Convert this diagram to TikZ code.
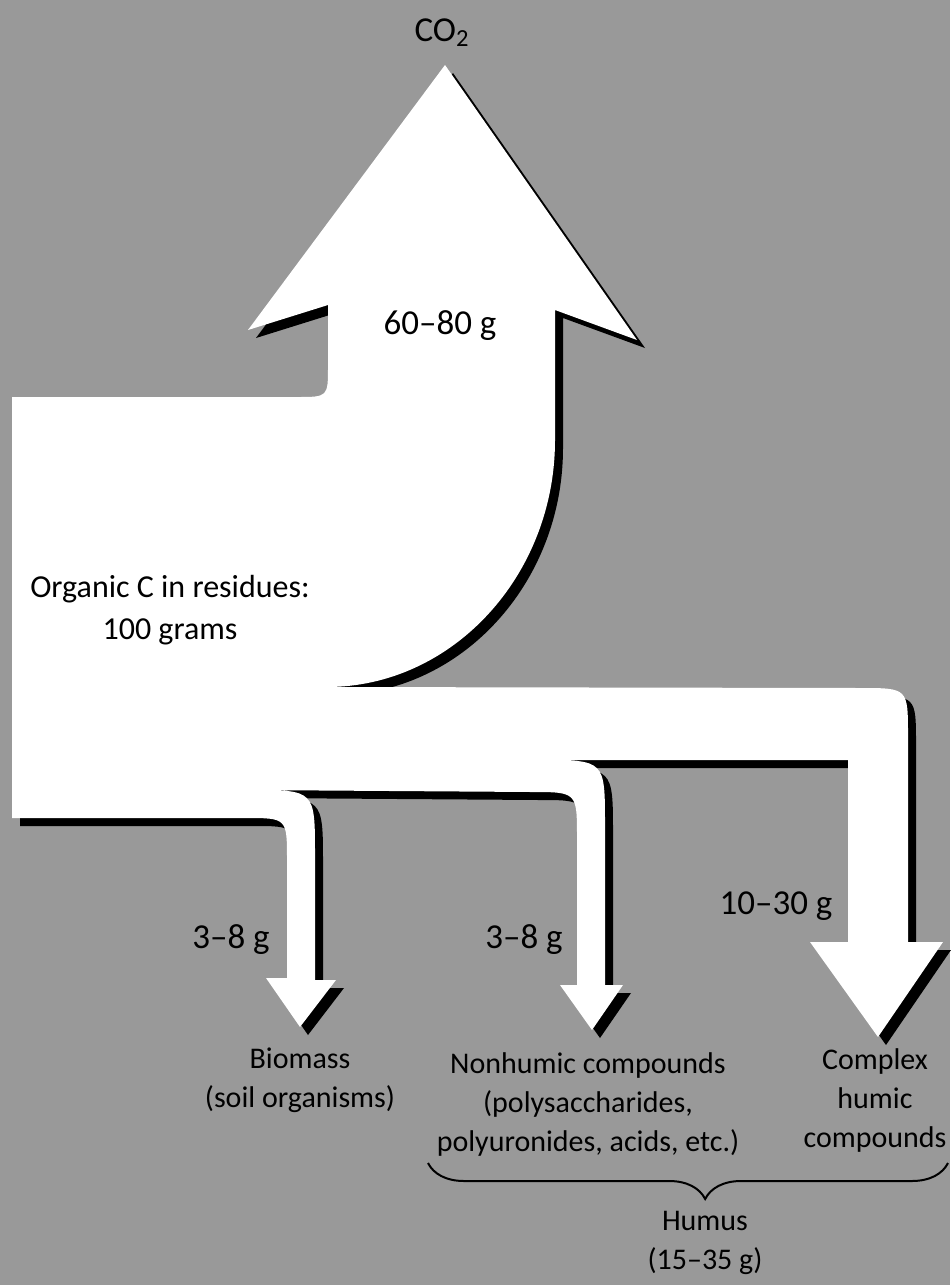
\documentclass[tikz,border=0pt]{standalone}
\usepackage{fontspec}
\setmainfont{Carlito}
\usetikzlibrary{decorations.pathreplacing}
\definecolor{soilgray}{gray}{0.6}
\tikzset{
  amount/.style={inner sep=0pt,font=\fontsize{17.5}{21}\selectfont},
  source/.style={inner sep=0pt,align=center,font=\fontsize{16}{21}\selectfont},
  sink/.style={inner sep=0pt,align=center,font=\fontsize{15}{19.5}\selectfont},
  flowshadow/.style={fill=black,shift={(8,8)}},
  flowbody/.style={fill=white}
}
% outline of the carbon flow (one white band with four arrow heads)
\newcommand{\carbonflow}{(12,397) -- (297,397) .. controls (328,397) .. (328,366)
  -- (328,305) -- (248,330) -- (445,65) -- (637,340) -- (555,310) -- (555,440)
  .. controls (555,576) and (452,687) .. (327,687)
  -- (860,688) .. controls (908,688) .. (908,736)
  -- (908,942) -- (943,942) -- (878,1037) -- (810,942) -- (848,942)
  -- (848,760) -- (540,760) .. controls (605,760) .. (605,825)
  -- (605,985) -- (623,985) -- (592,1030) -- (560,985) -- (577,985)
  -- (577,838) .. controls (577,792) .. (531,792)
  -- (250,790) .. controls (315,790) .. (315,855)
  -- (315,980) -- (336,980) -- (300,1027) -- (266,978) -- (287,978)
  -- (287,860) .. controls (287,818) .. (245,818)
  -- (12,818) -- cycle}

\begin{document}
\begin{tikzpicture}[x=0.5pt,y=-0.5pt]
      \fill[soilgray] (0,0) rectangle (950,1285); % background
      \useasboundingbox (0,0) rectangle (950,1285);
      \fill[flowshadow] \carbonflow; % drop shadow
      \fill[flowbody] \carbonflow; % white flow
      \node[amount] (co2) at (442,33) {CO\textsubscript{2}}; % CO2 label
      \node[amount] (resp) at (440,326) {60--80 g}; % respired
      \node[source] (residue) at (170,610) {Organic C in residues:\\100 grams}; % input
      \node[amount] (gbio) at (231,940) {3--8 g}; % biomass amount
      \node[amount] (gnon) at (524,940) {3--8 g}; % nonhumic amount
      \node[amount] (ghum) at (776,906) {10--30 g}; % humic amount
      \node[sink] (biomass) at (300,1080) {Biomass\\(soil organisms)};
      \node[sink] (nonhumic) at (588,1104) {Nonhumic compounds\\(polysaccharides,\\polyuronides, acids, etc.)};
      \node[sink] (complex) at (875,1100) {Complex\\humic\\compounds};
      \node[sink] (humus) at (705,1243) {Humus\\(15--35 g)};
      \coordinate (bracel) at (428,1163); % brace ends
      \coordinate (bracer) at (948,1163);
      \draw[line width=1pt,decorate,decoration={brace,mirror,amplitude=18pt,aspect=0.533}] (bracel) -- (bracer); % humus brace
\end{tikzpicture}
\end{document}
